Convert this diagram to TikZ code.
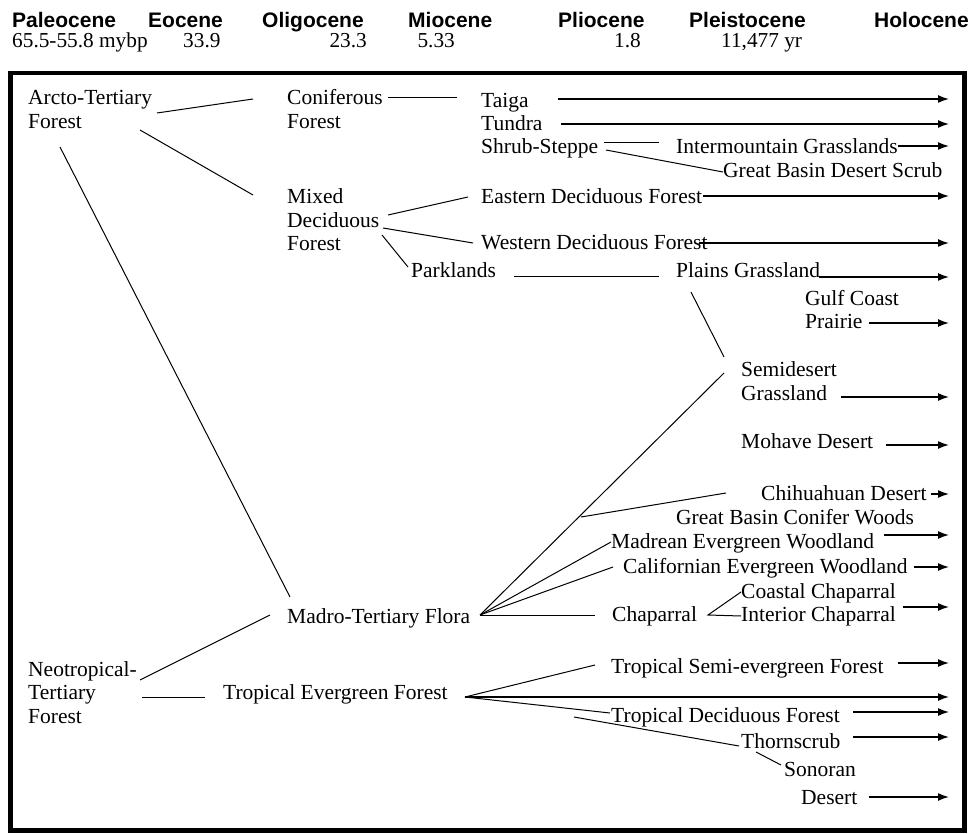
\documentclass[tikz,border=0pt]{standalone}
\usepackage{fontspec}
\setmainfont{Liberation Serif}
\newfontfamily\hdrfont{Liberation Sans}
\usetikzlibrary{arrows.meta}
\tikzset{
  lbl/.style={anchor=base west, inner sep=0pt, align=left, font=\fontsize{21.5}{23.5}\selectfont},
  hdr/.style={anchor=base west, inner sep=0pt, font=\hdrfont\bfseries\fontsize{21}{24}\selectfont},
  yr/.style={anchor=base west, inner sep=0pt, font=\fontsize{21.3}{24}\selectfont},
  conn/.style={line width=1pt},
  arr/.style={line width=1.5pt, -{Latex[length=11pt,width=8pt]}},
  frame/.style={line width=4.5pt}
}
\begin{document}
\begin{tikzpicture}[x=1pt,y=-1pt]
\useasboundingbox (0,0) rectangle (972,834);
\draw[frame] (10.5,73) rectangle (964.5,830.5);
% header
\node[hdr] (h1) at (12,28) {Paleocene};
\node[hdr] (h2) at (148,28) {Eocene};
\node[hdr] (h3) at (262,28) {Oligocene};
\node[hdr] (h4) at (408,28) {Miocene};
\node[hdr] (h5) at (558,28) {Pliocene};
\node[hdr] (h6) at (689,28) {Pleistocene};
\node[hdr] (h7) at (874,28) {Holocene};
\node[yr] (y1) at (12,48) {65.5-55.8 mybp};
\node[yr] (y2) at (183,48) {33.9};
\node[yr,anchor=base east] (y3) at (367,48) {23.3};
\node[yr,anchor=base east] (y4) at (455,48) {5.33};
\node[yr,anchor=base east] (y5) at (641,48) {1.8};
\node[yr] (y6) at (721,48) {11,477 yr};
% labels (multi-line nodes: base = last line)
\node[lbl] (arcto) at (28,128.5) {Arcto-Tertiary\\Forest};
\node[lbl] (conif) at (287,128.5) {Coniferous\\Forest};
\node[lbl] (taiga) at (481,108) {Taiga};
\node[lbl] (tundra) at (481,131) {Tundra};
\node[lbl] (shrub) at (481,154) {Shrub-Steppe};
\node[lbl] (inter) at (676,154) {Intermountain Grasslands};
\node[lbl] (gbds) at (723,178) {Great Basin Desert Scrub};
\node[lbl] (mixed) at (287,251) {Mixed\\Deciduous\\Forest};
\node[lbl] (eastern) at (481,204) {Eastern Deciduous Forest};
\node[lbl] (western) at (481,250) {Western Deciduous Forest};
\node[lbl] (park) at (411,278) {Parklands};
\node[lbl] (plains) at (676,278) {Plains Grassland};
\node[lbl] (gulf) at (805,329) {Gulf Coast\\Prairie};
\node[lbl] (semi) at (741,400) {Semidesert\\Grassland};
\node[lbl] (mohave) at (741,448) {Mohave Desert};
\node[lbl] (chihu) at (761,500) {Chihuahuan Desert};
\node[lbl] (gbcw) at (676,524) {Great Basin Conifer Woods};
\node[lbl] (madrean) at (611,548) {Madrean Evergreen Woodland};
\node[lbl] (calif) at (623,573) {Californian Evergreen Woodland};
\node[lbl] (coastal) at (741,598) {Coastal Chaparral};
\node[lbl] (interior) at (741,621) {Interior Chaparral};
\node[lbl] (chap) at (612,621) {Chaparral};
\node[lbl] (madro) at (287,623) {Madro-Tertiary Flora};
\node[lbl] (neo) at (28,723) {Neotropical-\\Tertiary\\Forest};
\node[lbl] (tef) at (223,699) {Tropical Evergreen Forest};
\node[lbl] (tsef) at (611,673) {Tropical Semi-evergreen Forest};
\node[lbl] (tdf) at (611,722) {Tropical Deciduous Forest};
\node[lbl] (thorn) at (741,748) {Thornscrub};
\node[lbl] (sonoran) at (784,776) {Sonoran};
\node[lbl] (desert) at (801,804) {Desert};
% connector coordinates
\coordinate (a1) at (157,113); \coordinate (a2) at (253,99);
\coordinate (a3) at (140,130); \coordinate (a4) at (253,195);
\coordinate (a5) at (60,147);  \coordinate (a6) at (290,597);
\coordinate (b1) at (388,98);  \coordinate (b2) at (457,98);
\coordinate (b3) at (604,143); \coordinate (b4) at (659,143);
\coordinate (b5) at (606,150); \coordinate (b6) at (723,172);
\coordinate (m1) at (388,215); \coordinate (m2) at (468,197);
\coordinate (m3) at (383,228); \coordinate (m4) at (473,243);
\coordinate (m5) at (382,235); \coordinate (m6) at (408,267);
\coordinate (p1) at (514,277); \coordinate (p2) at (659,277);
\coordinate (p3) at (691,292); \coordinate (p4) at (724,357);
\coordinate (jm) at (480,615);
\coordinate (s1) at (724,373);
\coordinate (c1) at (581,517); \coordinate (c2) at (726,493);
\coordinate (w1) at (611,542); \coordinate (w2) at (613,567);
\coordinate (ch1) at (595,615);
\coordinate (k0) at (708,615); \coordinate (k1) at (741,592); \coordinate (k2) at (741,616);
\coordinate (n1) at (140,680); \coordinate (n2) at (270,615);
\coordinate (n3) at (142,697); \coordinate (n4) at (205,697);
\coordinate (jt) at (465,697);
\coordinate (t1) at (595,665); \coordinate (t2) at (610,713);
\coordinate (t3) at (574,717); \coordinate (t4) at (739,746);
\coordinate (t5) at (756,752); \coordinate (t6) at (781,765);
% connectors
\draw[conn] (a1) -- (a2);
\draw[conn] (a3) -- (a4);
\draw[conn] (a5) -- (a6);
\draw[conn] (b1) -- (b2);
\draw[conn] (b3) -- (b4);
\draw[conn] (b5) -- (b6);
\draw[conn] (m1) -- (m2);
\draw[conn] (m3) -- (m4);
\draw[conn] (m5) -- (m6);
\draw[conn] (p1) -- (p2);
\draw[conn] (p3) -- (p4);
\draw[conn] (jm) -- (s1);
\draw[conn] (c1) -- (c2);
\draw[conn] (jm) -- (w1);
\draw[conn] (jm) -- (w2);
\draw[conn] (jm) -- (ch1);
\draw[conn] (k1) -- (k0) -- (k2);
\draw[conn] (n1) -- (n2);
\draw[conn] (n3) -- (n4);
\draw[conn] (jt) -- (t1);
\draw[conn] (jt) -- (t2);
\draw[conn] (t3) -- (t4);
\draw[conn] (t5) -- (t6);
% arrows
\foreach \n/\x/\y in {r1/558/99, r2/561/124, r3/898/146, r4/703/196, r5/699/243,
  r6/819/277, r7/869/323, r8/841/397, r9/886/445, r10/931/494, r11/884/535,
  r12/914/567, r13/903/607, r14/898/663, r16/853/712, r17/853/737, r18/869/797}{
  \coordinate (\n s) at (\x,\y);
  \coordinate (\n e) at (949,\y);
  \draw[arr] (\n s) -- (\n e);
}
\coordinate (r15e) at (949,697);
\draw[arr] (jt) -- (r15e);
\end{tikzpicture}
\end{document}
